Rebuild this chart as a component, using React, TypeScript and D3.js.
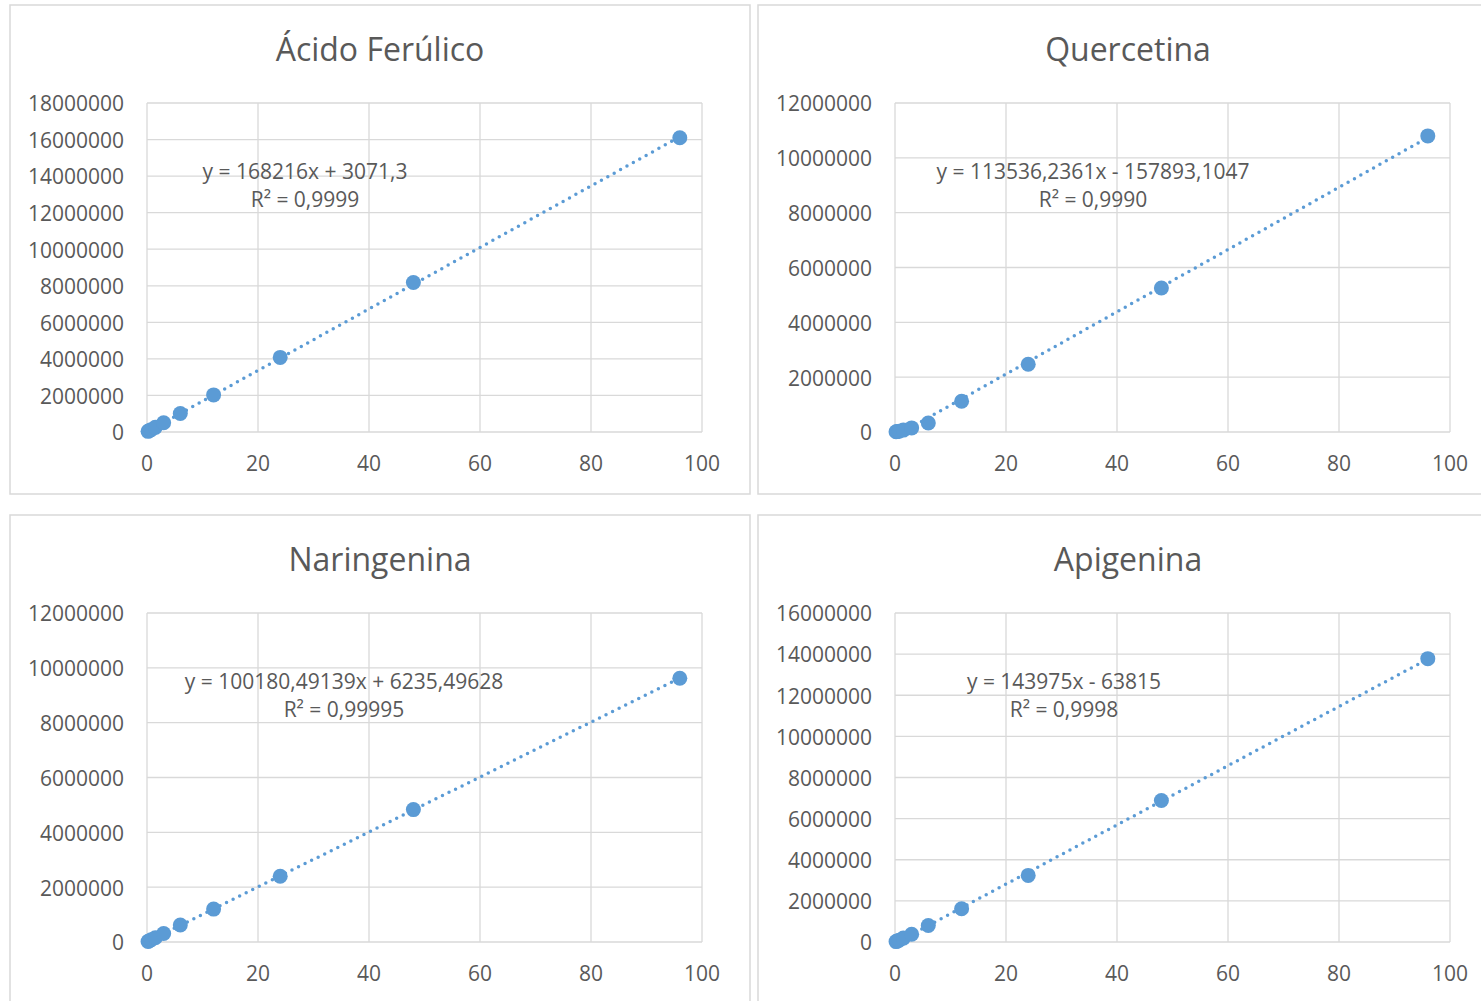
import React from "react";
import * as d3 from "d3";

// ---- data ----
const concentrations = [0.1875, 0.375, 0.75, 1.5, 3, 6, 12, 24, 48, 96];

const titles = ["Ácido Ferúlico", "Quercetina", "Naringenina", "Apigenina"];

const ferulicoValues = [35000, 66000, 128000, 255000, 510000, 1010000, 2030000, 4080000, 8180000, 16100000];
const quercetinaValues = [8000, 15000, 30000, 70000, 150000, 330000, 1120000, 2470000, 5250000, 10800000];
const naringeninaValues = [20000, 40000, 80000, 155000, 310000, 620000, 1200000, 2400000, 4830000, 9620000];
const apigeninaValues = [20000, 45000, 90000, 190000, 380000, 800000, 1620000, 3240000, 6880000, 13780000];

const slopes = [168216, 113536.2361, 100180.49139, 143975];
const intercepts = [3071.3, -157893.1047, 6235.49628, -63815];
const equationTexts = [
  "y = 168216x + 3071,3",
  "y = 113536,2361x - 157893,1047",
  "y = 100180,49139x + 6235,49628",
  "y = 143975x - 63815",
];
const r2Texts = ["R² = 0,9999", "R² = 0,9990", "R² = 0,99995", "R² = 0,9998"];

const yMaxes = [18000000, 12000000, 12000000, 16000000];
const xTicks = [0, 20, 40, 60, 80, 100];

const seriesValues = [ferulicoValues, quercetinaValues, naringeninaValues, apigeninaValues];

// ---- layout ----
const panelOrigins = [
  [10, 5],
  [758, 5],
  [10, 515],
  [758, 515],
];
const eqCenters = [295, 335, 334, 306];

const PANEL_W = 740;
const PANEL_H = 489;
const PLOT = { left: 137, right: 692, top: 98, bottom: 427 };
const COLOR = "#5B9BD5";
const TEXT = "#595959";
const GRID = "#D9D9D9";
const FONT = "'Open Sans', 'Noto Sans', sans-serif";

function Panel({ i }: { i: number }) {
  const [ox, oy] = panelOrigins[i];
  const x = d3.scaleLinear().domain([0, 100]).range([PLOT.left, PLOT.right]);
  const y = d3.scaleLinear().domain([0, yMaxes[i]]).range([PLOT.bottom, PLOT.top]);
  const yTicks = d3.range(0, yMaxes[i] + 1, 2000000);
  const fmt = d3.format("d");
  const vals = seriesValues[i];
  const xs = concentrations;
  const x0 = d3.min(xs) as number;
  const x1 = d3.max(xs) as number;
  const trend = d3
    .line<number>()
    .x((d) => x(d))
    .y((d) => y(slopes[i] * d + intercepts[i]));
  const clipId = `clip${i}`;
  return (
    <g transform={`translate(${ox},${oy})`}>
      <rect x={0} y={0} width={PANEL_W} height={PANEL_H} fill="#fff" stroke={GRID} strokeWidth={1.5} />
      <defs>
        <clipPath id={clipId}>
          <rect x={PLOT.left} y={PLOT.top} width={PLOT.right - PLOT.left} height={PLOT.bottom - PLOT.top} />
        </clipPath>
      </defs>
      <text x={PANEL_W / 2} y={56} textAnchor="middle" fontSize={32} fill={TEXT} fontFamily={FONT}>
        {titles[i]}
      </text>
      {yTicks.map((t) => (
        <line key={"h" + t} x1={PLOT.left} x2={PLOT.right} y1={y(t)} y2={y(t)} stroke={GRID} strokeWidth={1.3} />
      ))}
      {xTicks.map((t) => (
        <line key={"v" + t} x1={x(t)} x2={x(t)} y1={PLOT.top} y2={PLOT.bottom} stroke={GRID} strokeWidth={1.3} />
      ))}
      {yTicks.map((t) => (
        <text
          key={"yt" + t}
          x={PLOT.left - 23}
          y={y(t) + 1}
          dy="0.35em"
          textAnchor="end"
          fontSize={21}
          fill={TEXT}
          fontFamily={FONT}
        >
          {fmt(t)}
        </text>
      ))}
      {xTicks.map((t) => (
        <text
          key={"xt" + t}
          x={x(t)}
          y={PLOT.bottom + 32}
          dy="0.35em"
          textAnchor="middle"
          fontSize={21}
          fill={TEXT}
          fontFamily={FONT}
        >
          {t}
        </text>
      ))}
      <path
        d={trend([x0, x1]) || ""}
        clipPath={`url(#${clipId})`}
        fill="none"
        stroke={COLOR}
        strokeWidth={3.5}
        strokeLinecap="round"
        strokeDasharray="0 7.3"
      />
      {xs.map((c, k) => (
        <circle key={"p" + k} cx={x(c)} cy={y(vals[k])} r={7.5} fill={COLOR} />
      ))}
      <text x={eqCenters[i]} y={174} textAnchor="middle" fontSize={21} fill={TEXT} fontFamily={FONT}>
        {equationTexts[i]}
      </text>
      <text x={eqCenters[i]} y={202} textAnchor="middle" fontSize={21} fill={TEXT} fontFamily={FONT}>
        {r2Texts[i]}
      </text>
    </g>
  );
}

export default function App() {
  return (
    <svg
      width={1481}
      height={1001}
      style={{ position: "absolute", left: 0, top: 0, background: "#fff" }}
    >
      <rect x={0} y={0} width={1481} height={1001} fill="#fff" />
      {[0, 1, 2, 3].map((i) => (
        <Panel key={i} i={i} />
      ))}
    </svg>
  );
}
